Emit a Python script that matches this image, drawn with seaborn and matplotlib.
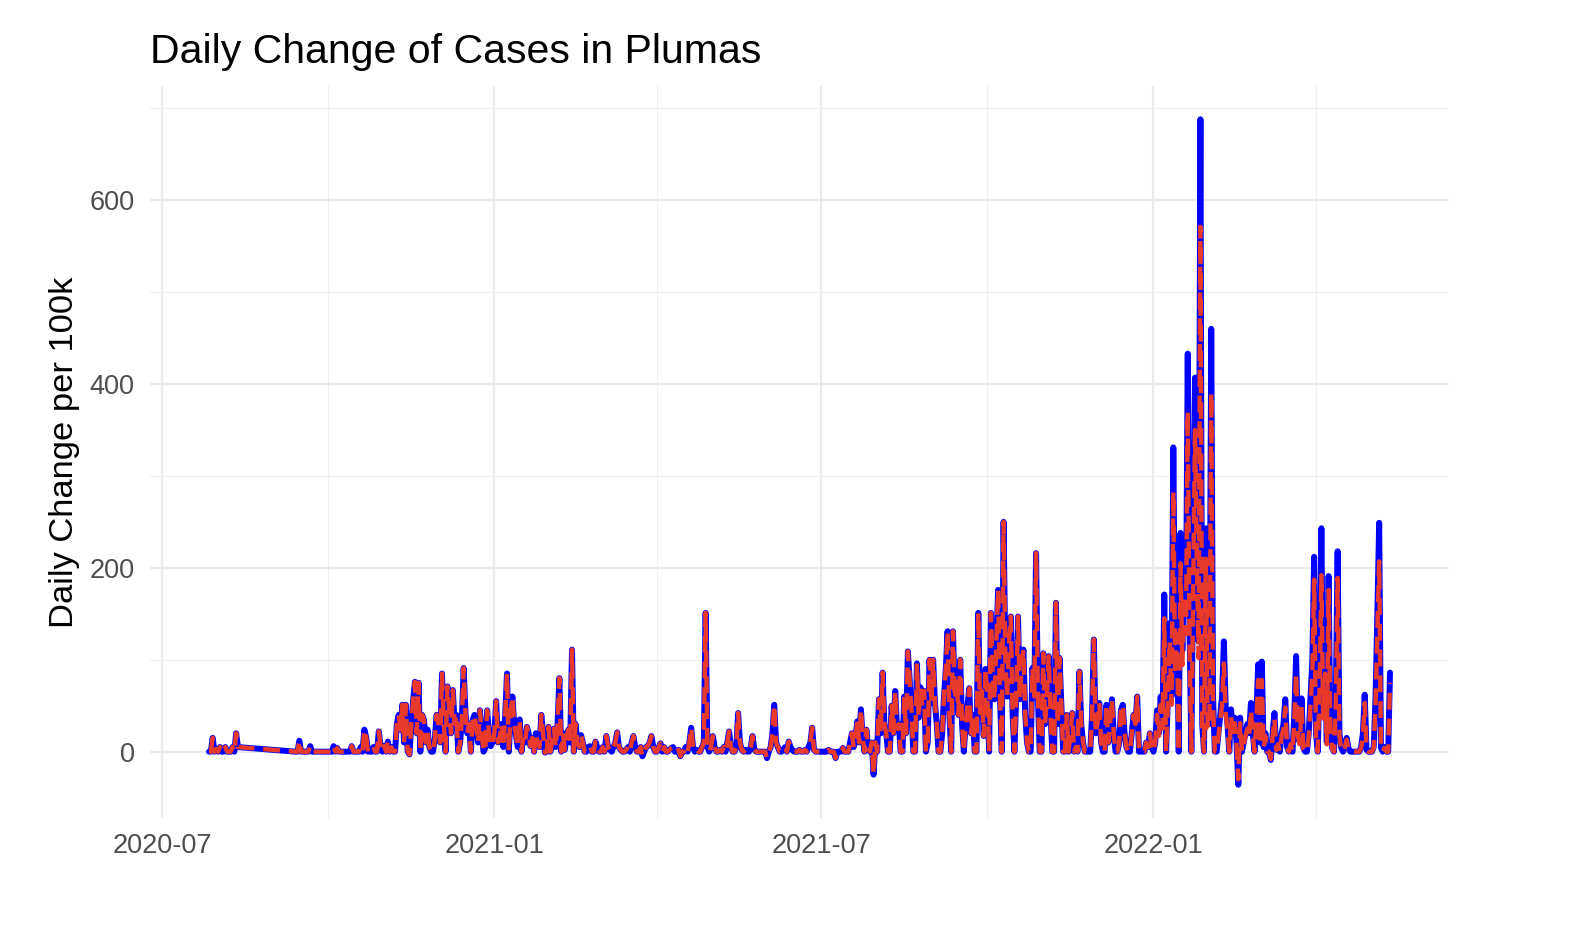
import pandas as pd
import matplotlib
matplotlib.use("Agg")
import matplotlib.pyplot as plt
import matplotlib.dates as mdates
from matplotlib.ticker import MultipleLocator
import seaborn as sns

# Daily change per 100k, one list per month.
# Nothing reported between 2020-08-12 and 2020-09-13, the line just spans the gap.
jul20 = [0, 0, 15, 0, 3]
aug20 = [0, 5, 0, 0, 5, 0, 0, 0, 5, 0, 20, 5]
sep20 = [0, 0, 12, 0, 0, 0, 0, 0, 6, 0, 0, 0, 0, 0, 0, 0, 0, 0]
oct20 = [0, 0, 0, 6, 0, 4, 0, 0, 0, 0, 0, 0, 0, 6, 0, 0, 0, 0, 5, 0,
         24, 16, 0, 0, 0, 5, 0, 0, 22, 6, 0]
nov20 = [6, 0, 11, 0, 5, 0, 0, 30, 40, 24, 51, 10, 51, 0, -3, 30, 55, 76, 20, 75,
         0, 40, 35, 10, 24, 5, 0, 0, 13, 40]
dec20 = [30, 10, 85, 30, 0, 71, 45, 20, 67, 30, 40, 0, 9, 35, 91, 42, 20, 30, 0, 35,
         40, 27, 10, 45, 20, 0, 4, 45, 20, 6, 10]
jan21 = [20, 55, 10, 17, 30, 5, 40, 85, 0, 42, 60, 30, 17, 5, 35, 0, 15, 10, 27, 20,
         6, 15, 0, 20, 9, 5, 40, 20, -1, 0, 27]
feb21 = [0, 10, 25, 5, 30, 80, 0, 20, 2, 15, 24, 10, 111, 0, 30, 9, 5, 18, 10, 0,
         0, 5, 6, 0, 0, 11, 5, 0]
mar21 = [0, 5, 0, 17, 5, 2, 0, 5, 10, 21, 5, 2, 0, 0, 2, 5, 0, 10, 17, 5,
         0, 0, 5, -5, 0, 5, 6, 10, 17, 5, 0]
apr21 = [0, 5, 9, 0, 5, 0, 0, 2, 4, 5, 0, 0, 2, -5, 0, 0, 5, 0, 10, 26,
         5, 0, 2, 0, 0, 5, 10, 151, 5, 0]
may21 = [5, 17, 5, 0, 0, 2, 0, 5, 0, 10, 22, 5, 0, 0, 5, 42, 10, 2, 0, 2,
         0, 0, 5, 17, 2, 0, 0, 0, 0, 0, 0]
jun21 = [-7, 0, 5, 20, 51, 10, 5, 0, 0, 2, 5, 0, 11, 5, 2, 0, 0, 0, 2, 0,
         0, 2, 0, 5, 10, 26, 2, 0, 0, 0]
jul21 = [0, 0, 0, 0, 2, 0, 0, 0, -7, 0, 0, 0, 4, 0, 0, 0, 10, 20, 5, 15,
         33, 10, 46, 15, 0, 24, 5, 0, 10, -25, 10]
aug21 = [0, 57, 20, 86, 30, 20, 0, 0, 50, 20, 66, 25, 30, 0, 0, 60, 20, 109, 78, 45,
         0, 0, 96, 37, 70, 49, 66, 0, 10, 100, 53]
sep21 = [100, 53, 30, 0, 0, 20, 60, 90, 131, 40, 0, 131, 57, 80, 40, 100, 30, 0, 30, 50,
         69, 20, 40, 0, 0, 151, 42, 66, 17, 90]
oct21 = [60, 0, 151, 80, 57, 120, 176, 60, 0, 250, 100, 60, 120, 147, 40, 0, 60, 147, 57, 90,
         111, 40, 10, 0, 0, 91, 60, 216, 60, 0, 0]
nov21 = [107, 30, 60, 104, 40, 0, 0, 162, 30, 102, 50, 0, 0, 40, 0, 20, 42, 0, 5, 0,
         87, 30, 10, 0, 0, 0, 0, 40, 122, 20]
dec21 = [30, 53, 10, 0, 0, 51, 10, 30, 57, 20, 0, 0, 9, 45, 51, 20, 5, 0, 0, 20,
         40, 30, 60, 0, 0, 0, 0, 10, 5, 20, 5]
jan22 = [0, 10, 45, 20, 60, 30, 171, 0, 60, 140, 60, 331, 100, 150, 0, 238, 110, 200, 150, 433,
         130, 0, 200, 407, 250, 120, 688, 30, 0, 243, 30]
feb22 = [30, 460, 60, 0, 0, 20, 40, 60, 120, 49, 30, 0, 46, 20, 37, 10, -36, 37, 0, 10,
         20, 30, 20, 53, 20, 0, 40, 95]
mar22 = [10, 98, 5, 20, 0, 0, -9, 20, 42, 2, 10, 0, 20, 30, 57, 5, 0, 10, 0, 40,
         104, 20, 10, 58, 4, 0, 0, 20, 60, 100, 212]
apr22 = [20, 0, 80, 243, 42, 100, 10, 191, 20, 4, 0, 60, 218, 20, 4, 0, 5, 15, 4, 0,
         0, 0, 0, 0, 0, 5, 20, 62, 2, 0]
may22 = [0, 0, 5, 60, 150, 249, 4, 0, 5, 0, 0, 86]

# dashed red series: same as blue until 2022, lower peaks from then on
jan22_red = [0, 10, 40, 17, 51, 25, 145, 0, 51, 120, 51, 283, 85, 128, 0, 205, 94, 170, 128, 370,
             111, 0, 170, 350, 213, 102, 571, 26, 0, 210, 26]
feb22_red = [25, 390, 50, 0, 0, 17, 34, 51, 96, 42, 25, 0, 39, 17, 31, 8, -30, 31, 0, 8,
             17, 25, 17, 45, 17, 0, 34, 78]
mar22_red = [8, 78, 4, 17, 0, 0, -8, 17, 36, 2, 8, 0, 17, 25, 48, 4, 0, 8, 0, 34,
             85, 17, 8, 49, 3, 0, 0, 17, 51, 85, 187]
apr22_red = [17, 0, 68, 192, 36, 85, 8, 176, 17, 3, 0, 51, 189, 17, 3, 0, 4, 13, 3, 0,
             0, 0, 0, 0, 0, 4, 17, 53, 2, 0]
may22_red = [0, 0, 4, 51, 128, 207, 3, 0, 4, 0, 0, 75]

month_starts = ["2020-07-27", "2020-08-01", "2020-09-13", "2020-10-01", "2020-11-01",
                "2020-12-01", "2021-01-01", "2021-02-01", "2021-03-01", "2021-04-01",
                "2021-05-01", "2021-06-01", "2021-07-01", "2021-08-01", "2021-09-01",
                "2021-10-01", "2021-11-01", "2021-12-01", "2022-01-01", "2022-02-01",
                "2022-03-01", "2022-04-01", "2022-05-01"]

blue_months = [jul20, aug20, sep20, oct20, nov20, dec20, jan21, feb21, mar21, apr21,
               may21, jun21, jul21, aug21, sep21, oct21, nov21, dec21,
               jan22, feb22, mar22, apr22, may22]
red_months = blue_months[:18] + [jan22_red, feb22_red, mar22_red, apr22_red, may22_red]

dates, blue, red = [], [], []
for start, b, r in zip(month_starts, blue_months, red_months):
    dates += list(pd.date_range(start, periods=len(b), freq="D"))
    blue += b
    red += r
df = pd.DataFrame({"date": dates, "blue": blue, "red": red})

sns.set_style("white")
plt.rcParams["font.family"] = ["Liberation Sans", "DejaVu Sans"]

fig = plt.figure(figsize=(15.84, 9.26), dpi=100)
ax = fig.add_axes([0.0947, 0.1166, 0.8201, 0.7905])

sns.lineplot(data=df, x="date", y="blue", color="#0000FF", lw=4.3,
             errorbar=None, solid_joinstyle="round", solid_capstyle="round", ax=ax)
sns.lineplot(data=df, x="date", y="red", color="#E8392B", lw=3.2,
             errorbar=None, linestyle=(0, (3.8, 2.0)),
             dash_joinstyle="round", dash_capstyle="butt", ax=ax)

# ggplot-style 5% expansion
x0, x1 = df["date"].min(), df["date"].max()
ax.set_xlim(x0 - (x1 - x0) * 0.05, x1 + (x1 - x0) * 0.05)
lo = min(df["blue"].min(), df["red"].min())
hi = max(df["blue"].max(), df["red"].max())
ax.set_ylim(lo - (hi - lo) * 0.05, hi + (hi - lo) * 0.05)

ax.xaxis.set_major_locator(mdates.MonthLocator(bymonth=[1, 7]))
ax.xaxis.set_minor_locator(mdates.MonthLocator(bymonth=[4, 10]))
ax.xaxis.set_major_formatter(mdates.DateFormatter("%Y-%m"))
ax.yaxis.set_major_locator(MultipleLocator(200))
ax.yaxis.set_minor_locator(MultipleLocator(100))

ax.grid(which="major", color="#EBEBEB", lw=1.6)
ax.grid(which="minor", color="#F0F0F0", lw=0.9)
ax.set_axisbelow(True)
for s in ax.spines.values():
    s.set_visible(False)
ax.tick_params(which="both", length=0, pad=11, labelsize=19.5, labelcolor="#4D4D4D")

ax.set_xlabel("")
ax.set_ylabel("Daily Change per 100k", fontsize=24.8, color="black", va="center")
ax.yaxis.set_label_coords(-0.066, 0.5)
ax.set_title("Daily Change of Cases in Plumas", loc="left", fontsize=29.5,
             pad=16.5, color="black")

fig.savefig("out.png", dpi=100, facecolor="white")
